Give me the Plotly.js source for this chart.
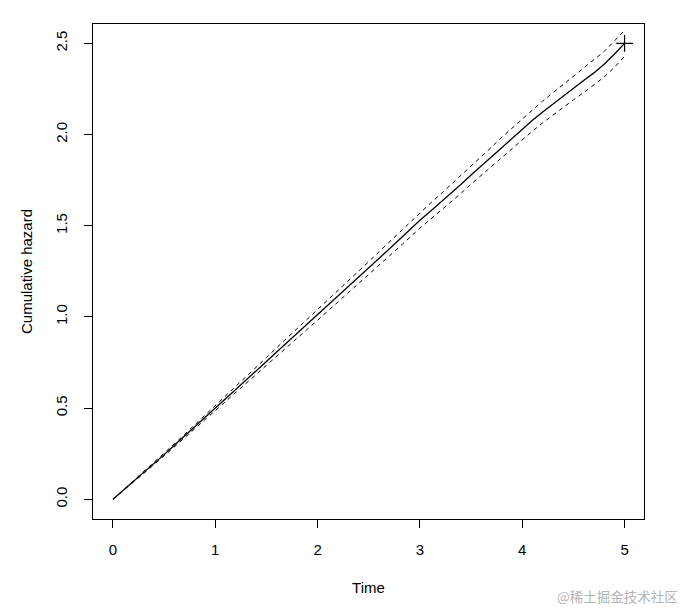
<!DOCTYPE html>
<html>
<head>
<meta charset="utf-8">
<script src="https://cdn.plot.ly/plotly-3.0.1.min.js"></script>
<style>html,body{margin:0;padding:0;background:#fff;}#chart{width:686px;height:609px;}</style>
</head>
<body>
<div id="chart"></div>
<script>
const time = [0,0.1,0.2,0.3,0.4,0.5,0.6,0.7,0.8,0.9,1.0,1.1,1.2,1.3,1.4,1.5,1.6,1.7,1.8,1.9,2.0,2.1,2.2,2.3,2.4,2.5,2.6,2.7,2.8,2.9,3.0,3.1,3.2,3.3,3.4,3.5,3.6,3.7,3.8,3.9,4.0,4.1,4.2,4.3,4.4,4.5,4.6,4.7,4.8,4.9,5.0];
const cumhaz = [0,0.048,0.097,0.146,0.195,0.245,0.296,0.346,0.397,0.449,0.500,0.551,0.602,0.652,0.703,0.756,0.808,0.859,0.910,0.960,1.010,1.062,1.114,1.165,1.216,1.268,1.320,1.372,1.424,1.478,1.530,1.578,1.626,1.676,1.726,1.778,1.828,1.878,1.930,1.980,2.030,2.078,2.124,2.168,2.212,2.254,2.296,2.338,2.385,2.440,2.500];
const upper = [0,0.050,0.100,0.151,0.201,0.252,0.304,0.356,0.408,0.462,0.514,0.566,0.619,0.670,0.723,0.777,0.831,0.883,0.936,0.987,1.038,1.091,1.145,1.197,1.250,1.303,1.357,1.410,1.464,1.519,1.573,1.622,1.672,1.723,1.775,1.828,1.879,1.931,1.985,2.036,2.087,2.137,2.184,2.229,2.274,2.318,2.362,2.406,2.455,2.512,2.572];
const lower = [0,0.046,0.094,0.141,0.189,0.238,0.288,0.336,0.386,0.436,0.486,0.536,0.585,0.634,0.683,0.735,0.785,0.835,0.884,0.933,0.982,1.033,1.083,1.133,1.182,1.233,1.283,1.334,1.384,1.437,1.487,1.534,1.580,1.629,1.677,1.728,1.777,1.825,1.875,1.924,1.973,2.019,2.064,2.107,2.150,2.190,2.230,2.270,2.315,2.368,2.428];
const censorTime = [5.0];
const censorHaz = [2.5];
const xTicks = [0,1,2,3,4,5];
const xTickText = ['0','1','2','3','4','5'];
const yTicks = [0,0.5,1,1.5,2,2.5];
const yTickText = ['0.0','0.5','1.0','1.5','2.0','2.5'];

const font = {family: 'Liberation Sans, Arial, sans-serif', size: 15, color: '#000'};

const traces = [
  {x: time, y: upper, type: 'scatter', mode: 'lines', line: {color: '#000', width: 1, dash: '4px,4px'}, hoverinfo: 'skip'},
  {x: time, y: lower, type: 'scatter', mode: 'lines', line: {color: '#000', width: 1, dash: '4px,4px'}, hoverinfo: 'skip'},
  {x: time, y: cumhaz, type: 'scatter', mode: 'lines', line: {color: '#000', width: 1.3}},
  {x: censorTime, y: censorHaz, type: 'scatter', mode: 'markers', marker: {symbol: 'cross-thin-open', size: 12, color: '#000', line: {color: '#000', width: 1.2}}}
];

const layout = {
  width: 686, height: 609,
  margin: {l: 93, r: 42, t: 24, b: 90},
  paper_bgcolor: '#fff', plot_bgcolor: '#fff',
  showlegend: false,
  font: font,
  xaxis: {
    range: [-0.195, 5.19], tickmode: 'array', tickvals: xTicks, ticktext: xTickText,
    ticks: 'outside', ticklen: 8, tickwidth: 1, tickcolor: '#000',
    showgrid: false, zeroline: false, showline: true, linecolor: '#000', linewidth: 1, mirror: true,
    ticklabelstandoff: 9,
    tickfont: font,
    title: {text: 'Time', font: font, standoff: 25}
  },
  yaxis: {
    range: [-0.108, 2.606], tickmode: 'array', tickvals: yTicks, ticktext: yTickText,
    ticks: 'outside', ticklen: 8, tickwidth: 1, tickcolor: '#000', tickangle: -90,
    showgrid: false, zeroline: false, showline: true, linecolor: '#000', linewidth: 1, mirror: true,
    ticklabelstandoff: 11,
    tickfont: font,
    title: {text: 'Cumulative hazard', font: font, standoff: 16}
  },
  annotations: [
    {text: '@稀土掘金技术社区', xref: 'paper', yref: 'paper', x: 1.066, y: -0.155, xanchor: 'right', yanchor: 'middle', showarrow: false,
     font: {family: 'Noto Sans CJK SC, sans-serif', size: 13.5, color: '#b5b5b5'}}
  ]
};

Plotly.newPlot('chart', traces, layout, {displayModeBar: false, staticPlot: true});
</script>
</body>
</html>
